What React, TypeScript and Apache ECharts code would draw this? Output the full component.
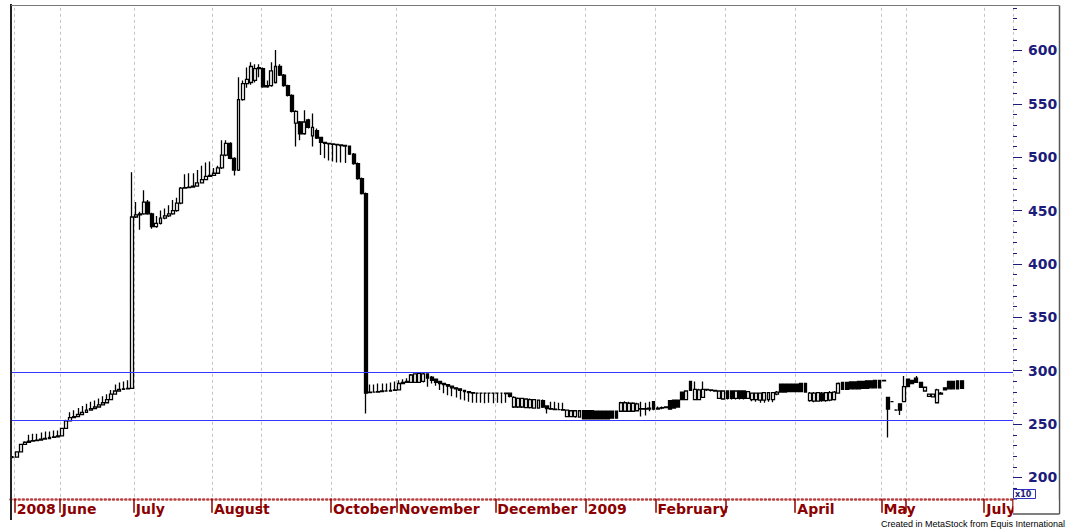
import React, { useEffect, useRef } from "react";
import * as echarts from "echarts";

// Each bar: [open, close, low, high]
const may08 = [
  [219, 219, 218, 220], [219, 224, 218.5, 224.5], [224, 231, 223.5, 231.5], [231, 233, 230.5, 234],
  [233, 234, 232.5, 240], [234, 234.5, 233.5, 241], [234.5, 235, 234, 241], [235, 236, 234.5, 242],
  [236, 236.5, 235.5, 243], [236.5, 237.5, 236, 243], [237.5, 238, 237, 244], [238, 239, 237.5, 244],
];
const jun08 = [
  [239, 246, 238.5, 246.5], [246, 253, 245.5, 254], [253, 256, 252.5, 261], [256, 257, 255.5, 263],
  [257, 259, 256.5, 265], [259, 261, 258.5, 267], [261, 263, 260.5, 269], [263, 264.5, 262.5, 271],
  [264.5, 266, 264, 272], [266, 268, 265.5, 274], [268, 270, 267.5, 276], [270, 273, 269.5, 278],
  [273, 278, 272.5, 282], [278, 281, 277.5, 287], [281, 282.5, 280.5, 289], [282.5, 283, 282, 290],
  [283, 283.5, 282.5, 291], [283.5, 444, 283, 486],
];
const jul08 = [
  [444, 446, 443, 458], [446, 447, 432, 449], [447, 458, 446, 469], [458, 447, 446, 460],
  [447, 435, 433, 448], [435, 438, 434, 445], [438, 443, 437, 450], [443, 445, 442, 452],
  [445, 447, 444, 455], [447, 450, 446, 460], [450, 457, 449, 462], [457, 471, 456, 472],
  [471, 471.5, 470.5, 484], [471.5, 472, 471, 485], [472, 473, 471.5, 485], [473, 476, 472.5, 488],
  [476, 479, 475.5, 492], [479, 482, 478.5, 495], [482, 483, 481.5, 496],
];
const aug08 = [
  [483, 485, 482.5, 490], [485, 490, 484.5, 492], [490, 502, 489, 516], [502, 513, 501, 516],
  [513, 499, 498, 514], [499, 488, 483, 500], [488, 554, 487, 575], [554, 569, 553, 572],
  [569, 573, 565, 584], [570, 585, 568, 589], [572, 583, 570, 587], [583, 584, 575, 587],
];
const sep08 = [
  [583, 566, 565, 584], [566, 567, 565, 572], [567, 581, 566, 589], [570, 585, 569, 600.5],
  [585, 577, 576, 587], [577, 567, 566, 578], [567, 558, 557, 568], [558, 543, 542, 559],
  [532, 543, 510, 544], [533, 522, 516, 534], [522, 533, 521, 544], [535, 528, 527, 536],
  [520, 528, 510, 541], [525, 518, 517, 527], [518.5, 514, 502, 519], [514, 513, 499, 514.5],
  [513, 512.5, 497, 513.5],
];
const oct08 = [
  [512.5, 512, 496, 513], [512, 511.5, 495, 512.5], [511.5, 511, 495, 512], [511, 510.5, 494.5, 511.5],
  [510.5, 503, 502, 511], [503, 494, 493, 504], [494, 480, 479, 495], [480, 466, 465, 481],
  [466, 279, 260, 467], [279.5, 280, 279, 287], [280, 280, 279.5, 287], [280, 280.5, 279.5, 288],
  [280.5, 281, 280, 288], [281, 281, 280.5, 288], [281, 281.5, 281, 289], [281.5, 282, 281, 290],
];
const nov08 = [
  [282, 288, 281.5, 291], [288, 289, 287.5, 292], [289, 290, 288.5, 293], [289, 296, 288.5, 297],
  [289, 297, 288.5, 297.5], [289, 297.5, 288.5, 298], [290, 297, 289, 298], [297, 293, 285, 297.5],
  [294, 291, 288, 295], [292, 289, 286, 292.5], [290, 288, 282, 290.5], [288, 287, 279, 288.5],
  [287, 285.5, 277, 287.5], [285.5, 284, 276, 286], [284, 283, 275, 284.5], [283, 281.5, 273, 283.5],
  [281.5, 280.5, 272, 282], [280.5, 279.5, 271, 281], [279.5, 279, 270, 279.5], [279, 279, 270, 279.5],
  [279, 279, 270, 279.5], [279, 279, 269.5, 279.5], [279, 279, 270, 279.5], [279, 279, 269.5, 279.5],
];
const dec08 = [
  [279, 279, 270, 279.5], [279, 279, 269.5, 279.5], [279, 278.5, 270, 279.5], [279, 276, 275, 279.5],
  [266, 275, 265, 276], [266, 274, 265, 275], [266, 274, 265, 274.5], [265.5, 273.5, 265, 274],
  [265.5, 273, 264.5, 274], [265, 273, 264.5, 273.5], [265, 272.5, 264.5, 273], [272, 266, 265, 273],
  [267, 264.5, 260, 267.5], [264.5, 264, 263.5, 271], [264, 263.5, 263, 271], [263.5, 263.5, 263, 270],
  [263.5, 263, 262.5, 270], [257, 263, 256.5, 263.5], [257, 262.5, 256.5, 263], [257, 262.5, 256, 263],
  [256.5, 262.5, 256, 263], [262.5, 255, 254.5, 263],
];
const jan09 = [
  [262.5, 255, 254.5, 263], [262.5, 255, 254.5, 263], [262, 255, 254.5, 262.5], [262, 255, 254.5, 262.5],
  [262, 255, 254.5, 262.5], [262, 255, 254.5, 262.5], [262, 255.5, 255, 262.5], [262, 255.5, 255, 262.5],
  [262, 270, 261.5, 271], [262, 270, 261.5, 271.5], [262, 269.5, 261.5, 271], [262, 269.5, 261.5, 270.5],
  [262.5, 269, 262, 270], [264, 264.5, 257, 271], [264.5, 264, 258, 270], [264, 265, 262, 271],
  [271, 264, 263, 271.5],
];
const feb09 = [
  [264, 265, 263.5, 266.5], [265, 265.5, 264, 266.5], [265.5, 266, 265, 266.5], [272, 264, 263.5, 272.5],
  [272.5, 265, 264.5, 273], [272.5, 266, 265.5, 273], [280, 273, 272.5, 280.5], [273, 281, 272.5, 281.5],
  [290, 281.5, 281, 290], [273, 282.5, 272.5, 290], [273, 282, 272.5, 283], [275, 282.5, 274.5, 290],
  [282.5, 282, 281, 283], [282, 281.5, 280.5, 282.5], [281.5, 281, 280.5, 282], [274, 281, 273.5, 281.5],
  [273.5, 281, 273, 281.5],
];
const mar09 = [
  [281, 274, 273, 281.5], [281, 274, 273, 281.5], [274, 281, 273, 281.5], [281, 274, 273, 281.5],
  [281, 274, 273, 281.5], [274, 280.5, 273.5, 281], [273, 279, 271.5, 279.5], [273, 279, 271, 279.5],
  [272.5, 279, 270, 279.5], [272.5, 279.5, 270, 280], [273, 279.5, 271, 280], [273, 279.5, 270.5, 280],
  [278, 280, 277, 281], [287.5, 280, 279.5, 288], [287.5, 280, 279.5, 288], [287.5, 280.5, 280, 288],
  [287.5, 280.5, 280, 288],
];
const apr09 = [
  [287.5, 280.5, 280, 288], [288, 280.5, 280, 288.5], [288, 280, 279.5, 288.5], [272, 279, 271, 280],
  [271.5, 279, 270.5, 280], [271.5, 279.5, 271, 280], [279, 272, 271, 280], [272, 279.5, 271, 280],
  [272.5, 279.5, 271.5, 281], [273, 280, 272, 281], [279, 288, 278.5, 289], [289, 282.5, 282, 289.5],
  [289, 282.5, 282, 289.5], [289.5, 283, 282.5, 290], [289.5, 283, 282.5, 290], [290, 283, 282.5, 290.5],
  [290, 283.5, 283, 290.5], [290.5, 283.5, 283, 291], [290.5, 284, 283.5, 291], [291, 284, 283.5, 291.5],
  [291, 284, 283.5, 291.5],
];
const may09 = [
  [291, 290.5, 290, 291.5], [275, 264, 237.5, 275.5], [271, 271, 270.5, 271.5], [263, 263, 262.5, 264],
  [269, 263, 258.5, 269.5], [271, 285, 270.5, 295],
];
const jun09 = [
  [292, 285, 284.5, 292.5], [291, 288, 287.5, 291.5], [293, 289, 288.5, 295], [289, 284.5, 284, 289.5],
  [281, 284.5, 280.5, 285], [276, 278, 275.5, 278.5], [275.5, 278, 275, 278.5], [270, 282, 269.5, 283],
  [278, 279, 277.5, 280], [284, 282, 281.5, 284.5], [290, 283, 282.5, 290], [290, 283, 282.5, 290],
  [290.5, 283, 282.5, 290.5], [290.5, 283.5, 283, 290.5],
];

const monthBars = [may08, jun08, jul08, aug08, sep08, oct08, nov08, dec08, jan09, feb09, mar09, apr09, may09, jun09];

// category slots on the time axis (one per trading bar, incl. empty space at right)
const SLOT_COUNT = 244;
// month boundary slot index -> label
const monthMarks: [number, string][] = [
  [1, "2008"], [12, "June"], [30, "July"], [49, "August"], [61, ""], [78, "October"],
  [94, "November"], [118, "December"], [140, "2009"], [157, "February"], [174, ""],
  [191, "April"], [212, "May"], [218, ""], [237, "July"],
];
const yTickLabels = [200, 250, 300, 350, 400, 450, 500, 550, 600];
const levelLines = [298.8, 253.2];

export default function App() {
  const ref = useRef<HTMLDivElement>(null);
  useEffect(() => {
    if (!ref.current) return;
    const chart = echarts.init(ref.current, undefined, { renderer: "svg" });
    const bars: number[][] = [];
    monthBars.forEach((m) => m.forEach((b) => bars.push(b)));
    const cats = Array.from({ length: SLOT_COUNT }, (_, i) => String(i));
    const markSet = new Set(monthMarks.map((m) => m[0]));
    const labelMap: Record<number, string> = {};
    monthMarks.forEach(([i, l]) => { if (l) labelMap[i] = l; });
    const navy = "#1c1c7a";
    const darkRed = "#8b0000";

    chart.setOption({
      animation: false,
      backgroundColor: "#ffffff",
      grid: { left: 10.5, top: 7.8, width: 1002.5, height: 491 },
      xAxis: {
        type: "category",
        data: cats,
        boundaryGap: true,
        axisLine: { show: true, lineStyle: { color: "#b84040", width: 2.5, type: [1, 3.1] } },
        axisTick: {
          show: true,
          interval: (i: number) => markSet.has(i),
          length: 14,
          lineStyle: { color: darkRed, width: 1.5 },
        },
        axisLabel: {
          show: true,
          interval: (i: number) => labelMap[i] !== undefined,
          formatter: (_v: string, i: number) => labelMap[i] || "",
          align: "left",
          margin: 3,
          color: darkRed,
          fontFamily: "DejaVu Sans",
          fontWeight: "bold",
          fontSize: 14,
        },
        splitLine: {
          show: true,
          interval: (i: number) => markSet.has(i),
          lineStyle: { color: "#c4c4c4", width: 1, type: [3, 3] },
        },
      },
      yAxis: [
        {
          type: "value",
          position: "right",
          min: 180,
          max: 640,
          interval: 10,
          axisLine: { show: false },
          axisTick: { show: true, length: 4, lineStyle: { color: navy, width: 1 } },
          axisLabel: { show: false },
          splitLine: { show: false },
        },
        {
          type: "value",
          position: "right",
          min: 180,
          max: 640,
          axisLine: { show: false },
          axisTick: { show: true, length: 9, customValues: yTickLabels, lineStyle: { color: navy, width: 1 } },
          axisLabel: {
            show: true,
            customValues: yTickLabels,
            margin: 15,
            color: navy,
            fontFamily: "DejaVu Sans",
            fontWeight: "bold",
            fontSize: 14,
          },
          splitLine: { show: false },
        },
      ],
      series: [
        {
          type: "candlestick",
          xAxisIndex: 0,
          yAxisIndex: 0,
          data: bars,
          barWidth: 3.4,
          itemStyle: {
            color: "#ffffff",
            color0: "#000000",
            borderColor: "#000000",
            borderColor0: "#000000",
            borderWidth: 1.3,
          },
          markLine: {
            silent: true,
            symbol: ["none", "none"],
            label: { show: false },
            lineStyle: { color: "#3535ff", width: 1, type: "solid" },
            data: levelLines.map((v) => ({ yAxis: v })),
          },
        },
      ],
      graphic: [
        { type: "line", shape: { x1: 11, y1: 4, x2: 11, y2: 520 }, style: { stroke: "#222", lineWidth: 2 }, z: 100 },
        { type: "line", shape: { x1: 11, y1: 5.5, x2: 1059, y2: 5.5 }, style: { stroke: "#777", lineWidth: 1 }, z: 100 },
        { type: "line", shape: { x1: 1059.5, y1: 5.5, x2: 1059.5, y2: 514 }, style: { stroke: "#555", lineWidth: 1.5 }, z: 100 },
        { type: "rect", shape: { x: 1013.5, y: 499.5, width: 45, height: 19 }, style: { fill: "#ffffff" }, z: 100 },
        { type: "line", shape: { x1: 1013, y1: 514, x2: 1059.5, y2: 514 }, style: { stroke: "#555", lineWidth: 1.5 }, z: 101 },
        { type: "rect", shape: { x: 1013.5, y: 489.5, width: 22, height: 9 }, style: { fill: "#ffffff", stroke: "#3030c0", lineWidth: 1 }, z: 101 },
        { type: "text", x: 1015, y: 490, style: { text: "x10", fill: navy, font: "bold 8px 'DejaVu Sans'" }, z: 102 },
        { type: "text", x: 881, y: 519.5, style: { text: "Created in MetaStock from Equis International", fill: "#000", font: "9px 'Liberation Sans'" }, z: 102 },
      ],
    });
    return () => chart.dispose();
  }, []);
  return <div ref={ref} style={{ position: "absolute", left: 0, top: 0, width: 1067, height: 529 }} />;
}
